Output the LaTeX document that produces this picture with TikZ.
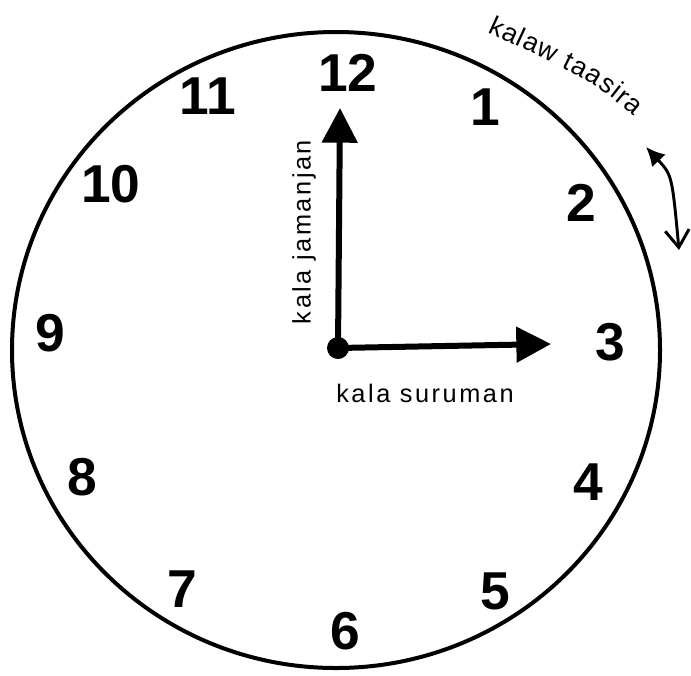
\documentclass[tikz,border=0pt]{standalone}
\usepackage{fontspec}
\setmainfont{Liberation Sans}
\newfontfamily\lblfont[LetterSpace=10]{Liberation Sans}
\usetikzlibrary{arrows.meta,decorations.text}

\begin{document}
\begin{tikzpicture}[x=0.75pt,y=-0.75pt,>=Latex,
num/.style={font=\fontsize{40}{40}\selectfont\bfseries,inner sep=0pt},
lbl/.style={font=\lblfont\fontsize{19}{19}\selectfont,inner sep=0pt},
hub/.style={circle,fill=black,minimum size=16.5pt,inner sep=0pt},
hand/.style={line width=4.5pt,-{Triangle[length=26pt,width=26pt]}},
rim/.style={line width=3pt}]
\path[use as bounding box] (0,0) rectangle (691,675);
% clock face
\draw[rim] (336,350) ellipse [x radius=324,y radius=318];
\node[num] (n12) at (348,73) {12};
\node[num] (n1) at (485,107) {1};
\node[num] (n2) at (581,203) {2};
\node[num] (n3) at (610,342) {3};
\node[num] (n4) at (588,482) {4};
\node[num] (n5) at (495,591) {5};
\node[num] (n6) at (345,631) {6};
\node[num] (n7) at (182,589) {7};
\node[num] (n8) at (82,477) {8};
\node[num] (n9) at (50,333) {9};
\node[num] (n10) at (111,184) {10};
\node[num] (n11) at (208,96) {11};
% hands
\node[hub] (hub) at (338,348) {};
\coordinate (tip12) at (340,108);
\coordinate (tip3) at (551,344);
\draw[hand] (hub.center)--(tip12);
\draw[hand] (hub.center)--(tip3);
\node[lbl,rotate=90] (jamanjan) at (304,232) {kala jamanjan};
\node[lbl] (suruman) at (425,393) {kala suruman};
% direction of turning
\coordinate (tstart) at (487,32);
\coordinate (tend) at (634,116);
\path[decorate,decoration={text along path,text align=fit to path,
  text={|\fontsize{20}{20}\selectfont|kalaw taasira}}]
  (tstart) .. controls (591,80) .. (tend);
\coordinate (turn0) at (646,147);
\coordinate (turn1) at (679,250);
\draw[line width=2.2pt,{Latex[length=14pt,width=14pt]}-{Straight Barb[length=13pt,width=18pt]}]
  (turn0) .. controls (672,175) .. (turn1);
\end{tikzpicture}
\end{document}
